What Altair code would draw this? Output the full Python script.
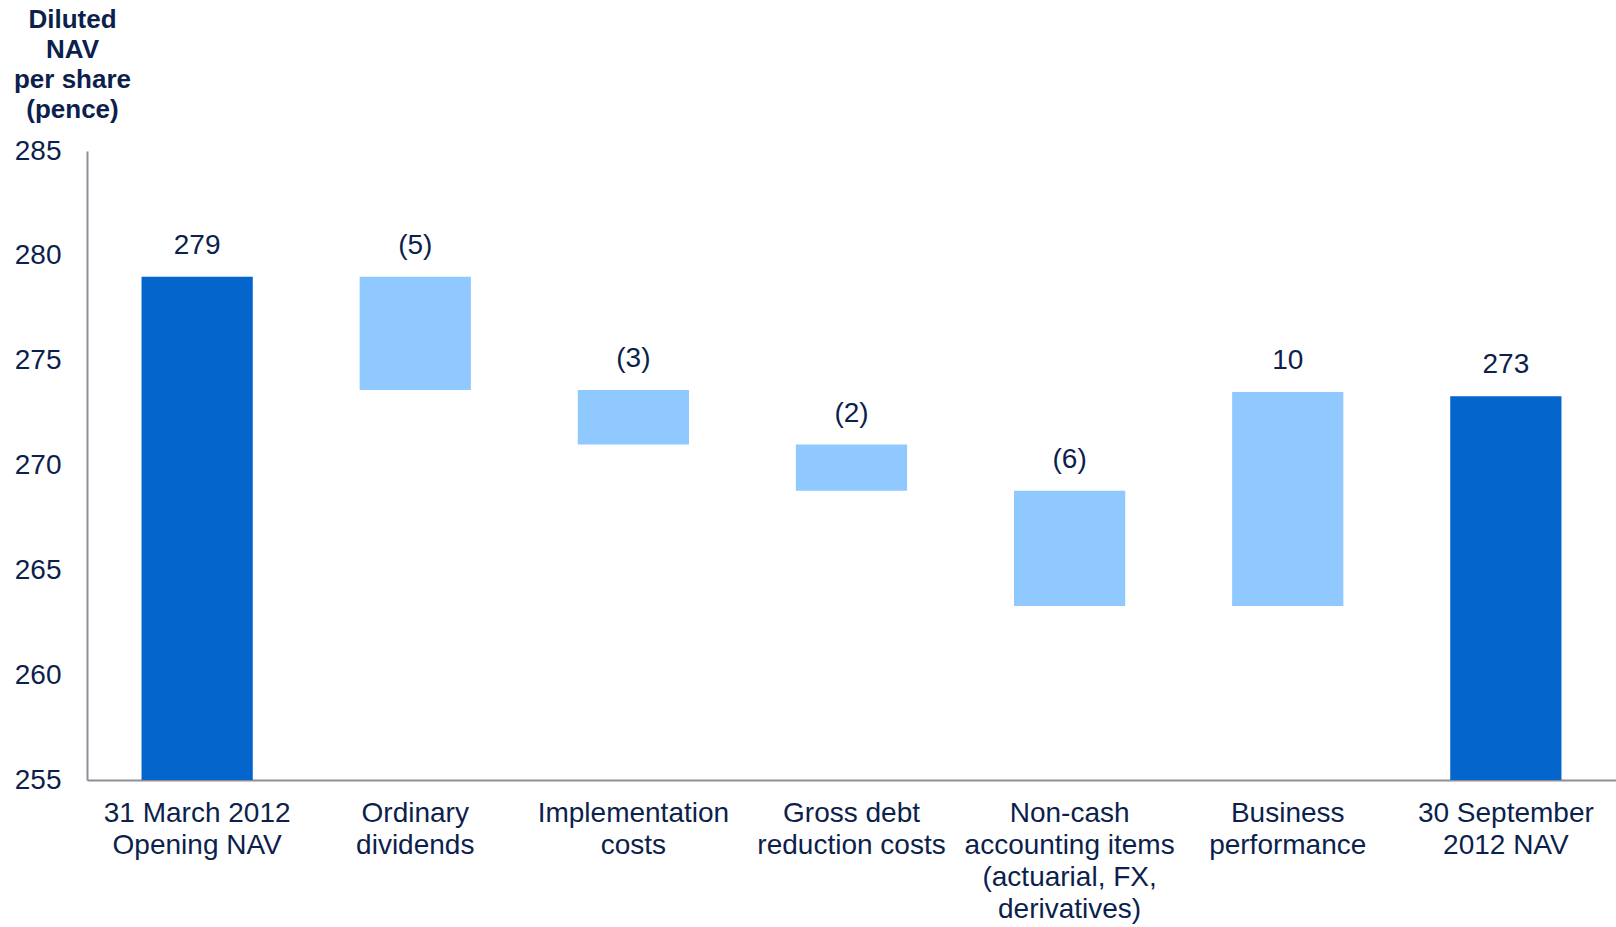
import altair as alt
import pandas as pd

categories = [
    "31 March 2012|Opening NAV",
    "Ordinary|dividends",
    "Implementation|costs",
    "Gross debt|reduction costs",
    "Non-cash|accounting items|(actuarial, FX,|derivatives)",
    "Business|performance",
    "30 September|2012 NAV",
]
bar_low = [255.0, 273.6, 271.0, 268.8, 263.3, 263.3, 255.0]
bar_high = [279.0, 279.0, 273.6, 271.0, 268.8, 273.5, 273.3]
value_labels = ["279", "(5)", "(3)", "(2)", "(6)", "10", "273"]
kinds = ["total", "change", "change", "change", "change", "change", "total"]

df = pd.DataFrame({
    "cat": categories,
    "low": bar_low,
    "high": bar_high,
    "label": value_labels,
    "kind": kinds,
})

TEXT = "#0D1F4D"
AXIS = "#8E8E98"
FONT = "Liberation Sans"

x = alt.X(
    "cat:N",
    sort=categories,
    scale=alt.Scale(paddingInner=0.49, paddingOuter=0.25),
    axis=alt.Axis(
        title=None,
        labelAngle=0,
        labelExpr="split(datum.label, '|')",
        labelFont=FONT,
        labelFontSize=28,
        labelColor=TEXT,
        labelLineHeight=32,
        labelBaseline="top",
        labelPadding=19,
        ticks=False,
        grid=False,
        domainColor=AXIS,
        domainWidth=2,
        labelLimit=400,
    ),
)

y_scale = alt.Scale(domain=[255, 285], nice=False, zero=False)

bars = alt.Chart(df).mark_bar().encode(
    x=x,
    y=alt.Y(
        "high:Q",
        scale=y_scale,
        axis=alt.Axis(
            values=[255, 260, 265, 270, 275, 280, 285],
            grid=False,
            ticks=False,
            labelFont=FONT,
            labelFontSize=28,
            labelColor=TEXT,
            labelPadding=26,
            domainColor=AXIS,
            domainWidth=2,
            title=["Diluted", "NAV", "per share", "(pence)"],
            titleAngle=0,
            titleFont=FONT,
            titleFontSize=26,
            titleFontWeight="bold",
            titleColor=TEXT,
            titleAlign="center",
            titleBaseline="top",
            titleLineHeight=30,
            titleX=-15,
            titleY=-145,
        ),
    ),
    y2="low:Q",
    color=alt.Color(
        "kind:N",
        scale=alt.Scale(domain=["total", "change"], range=["#0466CC", "#8FC9FF"]),
        legend=None,
    ),
)

labels = alt.Chart(df).mark_text(
    font=FONT, fontSize=28, color=TEXT, baseline="bottom", dy=-17
).encode(
    x=alt.X("cat:N", sort=categories),
    y=alt.Y("high:Q", scale=y_scale),
    text="label:N",
)

chart = (
    alt.layer(bars, labels)
    .properties(
        width=1529,
        height=629,
        background="white",
        autosize=alt.AutoSizeParams(type="none"),
        padding={"left": 87, "top": 151, "right": 0, "bottom": 147},
    )
    .configure_view(strokeWidth=0)
    .configure_axis(grid=False)
)

chart.save("out.html", embed_options={"renderer": "svg", "actions": False})
